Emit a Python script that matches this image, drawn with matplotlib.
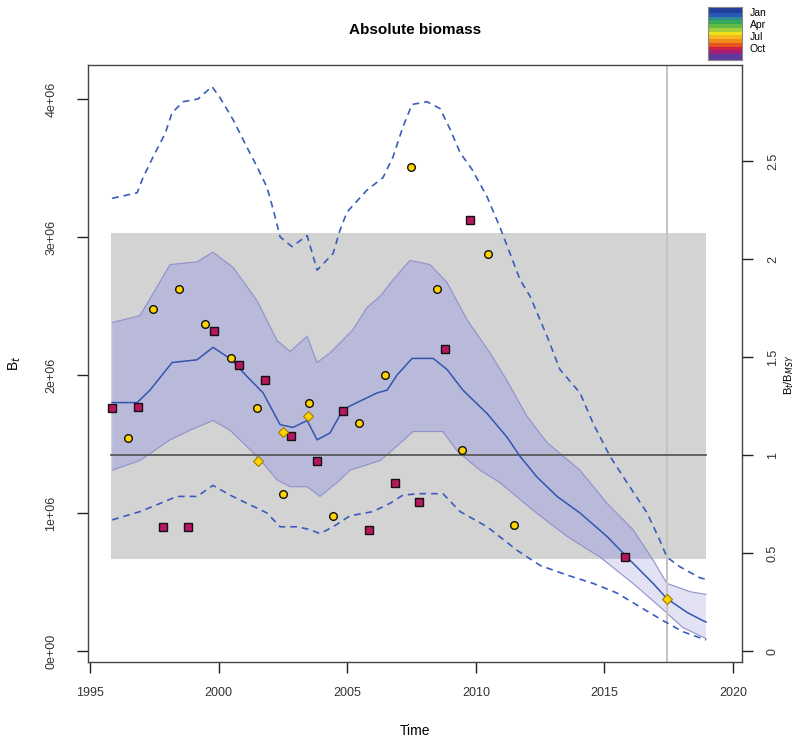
import numpy as np
import matplotlib
matplotlib.use("Agg")
import matplotlib.pyplot as plt
from matplotlib.patches import Rectangle
from matplotlib.colors import ListedColormap

plt.rcParams['font.family'] = ['Liberation Sans', 'DejaVu Sans']

# values in millions (biomass); time in years
bmsy = 1.42
bmsy_lo, bmsy_hi = 0.67, 3.03
t_start, t_end, t_obs_end = 1995.82, 2018.95, 2017.43

# estimated biomass
est_t = [1995.86, 1996.83, 1997.33, 1998.19, 1999.16, 1999.78, 2000.44, 2001.10, 2001.73, 2002.39,
         2002.89, 2003.44, 2003.83, 2004.33, 2004.84, 2005.38, 2006.16, 2006.55, 2006.94, 2007.52,
         2008.34, 2008.88, 2009.50, 2010.44, 2011.21, 2011.72, 2012.38, 2013.16, 2014.05, 2015.10,
         2015.88, 2016.89, 2017.43, 2018.21, 2018.83, 2018.95]
est_b = [1.80, 1.80, 1.89, 2.09, 2.11, 2.20, 2.12, 1.99, 1.87, 1.64,
         1.62, 1.67, 1.53, 1.58, 1.75, 1.80, 1.87, 1.89, 2.00, 2.12,
         2.12, 2.04, 1.89, 1.72, 1.55, 1.41, 1.26, 1.12, 1.00, 0.83,
         0.68, 0.49, 0.38, 0.28, 0.22, 0.21]

# 95% CI of biomass
ci_hi_t = [1995.86, 1996.94, 1997.45, 1998.11, 1999.16, 1999.78, 2000.56, 2001.49, 2002.27, 2002.78,
           2003.44, 2003.83, 2004.33, 2005.23, 2005.77, 2006.28, 2006.78, 2007.44, 2008.22, 2008.88,
           2009.66, 2010.55, 2011.21, 2011.99, 2012.77, 2014.05, 2015.10, 2016.11, 2016.89, 2017.43,
           2018.33, 2018.95]
ci_hi_b = [2.38, 2.43, 2.59, 2.80, 2.82, 2.89, 2.78, 2.54, 2.25, 2.17,
           2.28, 2.09, 2.16, 2.33, 2.49, 2.57, 2.69, 2.83, 2.80, 2.67,
           2.40, 2.16, 1.96, 1.70, 1.51, 1.31, 1.07, 0.88, 0.66, 0.49,
           0.43, 0.41]
ci_lo_t = [1995.86, 1996.94, 1998.11, 1998.89, 1999.78, 2000.44, 2001.22, 2001.73, 2002.27, 2002.78,
           2003.44, 2003.94, 2004.60, 2005.11, 2006.28, 2006.78, 2007.56, 2008.72, 2009.27, 2010.16,
           2010.94, 2012.22, 2013.55, 2014.83, 2016.11, 2017.16, 2018.05, 2018.95]
ci_lo_b = [1.31, 1.38, 1.53, 1.60, 1.67, 1.60, 1.46, 1.36, 1.24, 1.19,
           1.19, 1.12, 1.22, 1.31, 1.38, 1.46, 1.59, 1.59, 1.45, 1.31,
           1.22, 1.02, 0.83, 0.68, 0.49, 0.32, 0.17, 0.09]

# dashed CI (B/Bmsy scale)
dash_hi_t = [1995.86, 1996.83, 1997.06, 1997.45, 1997.92, 1998.19, 1998.62, 1999.20, 1999.74, 2000.05,
             2000.56, 2001.10, 2001.49, 2001.88, 2002.12, 2002.39, 2002.85, 2003.44, 2003.83, 2004.45,
             2004.72, 2004.99, 2005.77, 2006.39, 2006.78, 2007.17, 2007.52, 2008.10, 2008.61, 2009.00,
             2009.39, 2009.85, 2010.44, 2010.94, 2011.33, 2011.72, 2012.11, 2012.77, 2013.27, 2014.05,
             2014.56, 2015.22, 2015.88, 2016.66, 2017.16, 2017.43, 2017.94, 2018.72, 2018.95]
dash_hi_b = [3.28, 3.32, 3.43, 3.58, 3.75, 3.90, 3.98, 4.00, 4.09, 4.01,
             3.85, 3.65, 3.51, 3.36, 3.20, 3.00, 2.93, 3.01, 2.76, 2.88,
             3.05, 3.18, 3.34, 3.43, 3.58, 3.80, 3.96, 3.98, 3.93, 3.78,
             3.61, 3.49, 3.29, 3.07, 2.88, 2.69, 2.57, 2.28, 2.04, 1.87,
             1.65, 1.41, 1.22, 1.00, 0.80, 0.68, 0.61, 0.53, 0.52]
dash_lo_t = [1995.86, 1996.94, 1997.60, 1998.38, 1999.16, 1999.78, 2000.44, 2001.10, 2001.88, 2002.39,
             2003.05, 2003.55, 2003.94, 2004.45, 2005.11, 2006.00, 2006.66, 2007.17, 2007.83, 2008.72,
             2009.39, 2010.44, 2011.60, 2012.50, 2013.55, 2014.56, 2015.49, 2016.38, 2017.28, 2018.05,
             2018.95]
dash_lo_b = [0.95, 1.01, 1.06, 1.12, 1.12, 1.20, 1.13, 1.07, 1.00, 0.90,
             0.90, 0.88, 0.85, 0.90, 0.98, 1.01, 1.07, 1.13, 1.14, 1.14,
             1.01, 0.90, 0.73, 0.62, 0.55, 0.49, 0.42, 0.32, 0.22, 0.14,
             0.08]

# observations (scaled index)
sq_t = [1995.86, 1996.87, 1997.84, 1998.81, 1999.82, 2000.79, 2001.80, 2002.81, 2003.83, 2004.84,
        2005.85, 2006.86, 2007.79, 2008.80, 2009.77, 2015.80]
sq_b = [1.76, 1.77, 0.90, 0.90, 2.32, 2.07, 1.96, 1.56, 1.38, 1.74,
        0.88, 1.22, 1.08, 2.19, 3.12, 0.68]
ci_t = [1996.48, 1997.45, 1998.46, 1999.47, 2000.48, 2001.49, 2002.50, 2003.51, 2004.45, 2005.46,
        2006.47, 2007.48, 2008.49, 2009.46, 2010.47, 2011.49]
ci_b = [1.54, 2.48, 2.62, 2.37, 2.12, 1.76, 1.14, 1.80, 0.98, 1.65,
        2.00, 3.51, 2.62, 1.46, 2.88, 0.91]
dm_t = [2001.53, 2002.50, 2003.48, 2017.43]
dm_b = [1.38, 1.59, 1.70, 0.38]

month_labels = ['Jan', 'Apr', 'Jul', 'Oct']
season_cols = ['#213f9a', '#2a58b5', '#2e8a96', '#38a857', '#62bb45', '#a6cf3c', '#efe21a',
               '#f6b81c', '#f08a1a', '#e8521f', '#cf1f45', '#a3207a', '#5e3a9c']

M = 1e6
W, H = 795, 743
fig = plt.figure(figsize=(W / 100, H / 100), dpi=100)
ax = fig.add_axes([88 / W, 81 / H, 654 / W, 597 / H])

lo_lim, hi_lim = -0.0797 * M, 4.246 * M
ax.set_xlim(1994.92, 2020.35)
ax.set_ylim(lo_lim, hi_lim)

rect = Rectangle((t_start, bmsy_lo * M), t_end - t_start, (bmsy_hi - bmsy_lo) * M,
                 facecolor='#d3d3d3', edgecolor='none', zorder=1)
ax.add_patch(rect)

poly_x = np.r_[ci_hi_t, ci_lo_t[::-1]]
poly_y = np.r_[ci_hi_b, ci_lo_b[::-1]] * M
ax.fill(poly_x, poly_y, color='#e2e2f4', lw=0, zorder=2)
dark = ax.fill(poly_x, poly_y, color='#b9b9d9', lw=0, zorder=2.1)[0]
dark.set_clip_path(rect)
ax.plot(ci_hi_t, np.array(ci_hi_b) * M, color='#9090cc', lw=0.8, zorder=2.2)
ax.plot(ci_lo_t, np.array(ci_lo_b) * M, color='#9090cc', lw=0.8, zorder=2.2)

ax.axvline(t_obs_end, color='#c4c4c4', lw=1.5, zorder=2.3)
ax.plot([t_start, t_end], [bmsy * M, bmsy * M], color='#5a5a5a', lw=1.3, zorder=2.4)

ax.plot(dash_hi_t, np.array(dash_hi_b) * M, color='#3a5cbc', lw=1.2, ls=(0, (4, 3)), zorder=3)
ax.plot(dash_lo_t, np.array(dash_lo_b) * M, color='#3a5cbc', lw=1.2, ls=(0, (4, 3)), zorder=3)
ax.plot(est_t, np.array(est_b) * M, color='#3355b0', lw=1.1, zorder=3.1)

ax.plot(ci_t, np.array(ci_b) * M, 'o', ms=5.5, mfc='#ffd400', mec='#111111', mew=1.0, ls='none', zorder=4)
ax.plot(sq_t, np.array(sq_b) * M, 's', ms=5.5, mfc='#b8175f', mec='#111111', mew=1.0, ls='none', zorder=4)
ax.plot(dm_t, np.array(dm_b) * M, 'D', ms=5, mfc='#ffd400', mec='#9a7d00', mew=0.8, ls='none', zorder=4)

ax.set_xticks([1995, 2000, 2005, 2010, 2015, 2020])
ax.set_yticks(np.arange(0, 5) * M)
ax.set_yticklabels(['0e+00', '1e+06', '2e+06', '3e+06', '4e+06'])
ax.tick_params(axis='both', length=8, width=1, colors='#222222', labelsize=9, labelcolor='#333333')
ax.tick_params(axis='x', pad=10)
ax.tick_params(axis='y', pad=14, labelrotation=90)
for lab in ax.get_yticklabels():
    lab.set_va('center')
for sp in ax.spines.values():
    sp.set_color('#444444')
    sp.set_linewidth(1)

ax2 = ax.twinx()
ax2.set_ylim(lo_lim / (bmsy * M), hi_lim / (bmsy * M))
ax2.set_yticks([0, 0.5, 1, 1.5, 2, 2.5])
ax2.set_yticklabels(['0', '0.5', '1', '1.5', '2', '2.5'])
ax2.tick_params(axis='y', length=8, width=1, colors='#222222', labelsize=9, labelcolor='#333333',
                pad=10, labelrotation=90)
for lab in ax2.get_yticklabels():
    lab.set_va('center')
for sp in ax2.spines.values():
    sp.set_visible(False)

fig.text(415 / W, 1 - 30 / H, 'Absolute biomass', ha='center', va='center', fontsize=11, fontweight='bold')
fig.text(415 / W, 1 - 731 / H, 'Time', ha='center', va='center', fontsize=10)
fig.text(15 / W, 1 - 363 / H, r'B$_t$', ha='center', va='center', fontsize=10, rotation=90)
fig.text(789 / W, 1 - 375 / H, r'B$_t$/B$_{MSY}$', ha='center', va='center', fontsize=8, rotation=90)

# season colour key
cax = fig.add_axes([708 / W, 1 - 60 / H, 34 / W, 53 / H])
cax.imshow(np.arange(len(season_cols)).reshape(-1, 1), cmap=ListedColormap(season_cols),
           aspect='auto', interpolation='bilinear')
cax.set_xticks([])
cax.set_yticks([])
for sp in cax.spines.values():
    sp.set_color('#888888')
    sp.set_linewidth(0.8)
for lab, yy in zip(month_labels, [13, 25, 37, 49]):
    fig.text(750 / W, 1 - yy / H, lab, ha='left', va='center', fontsize=7.5)

fig.savefig('out.png', dpi=100)
